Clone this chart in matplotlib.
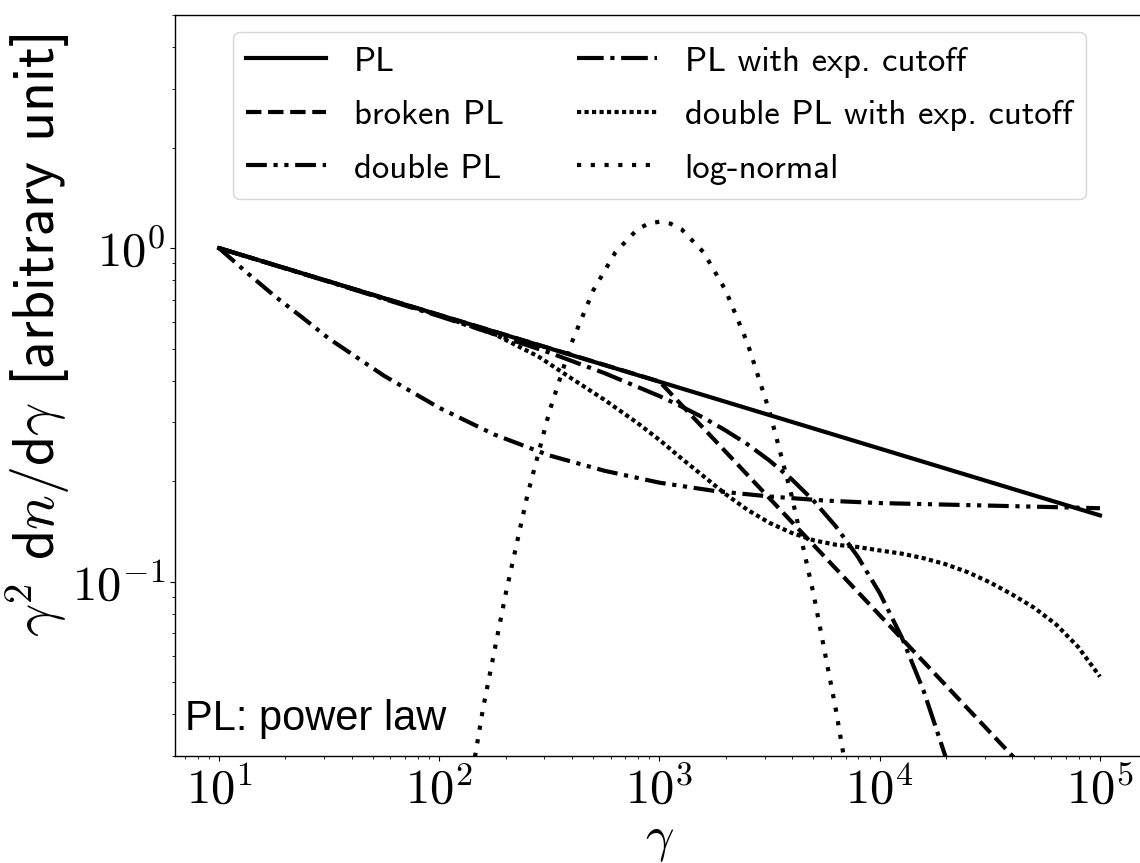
import numpy as np
import matplotlib
matplotlib.use("Agg")
import matplotlib.pyplot as plt
from matplotlib import ticker

# ============================================================
# DATA
# ============================================================

gamma_pl = [10, 1e5]
pl = [1.0, 0.158]

gamma_bpl = [10, 1000, 1e5]
bpl = [1.0, 0.398, 0.0158]

gamma_dpl = [10, 13.3, 17.8, 23.7, 31.6, 56.2, 100, 178, 316, 562, 1000,
             1778, 3162, 5623, 1e4, 31623, 1e5]
dpl = [1.0, 0.847, 0.72, 0.622, 0.535, 0.414, 0.332, 0.276, 0.239, 0.215,
       0.198, 0.187, 0.180, 0.175, 0.172, 0.169, 0.166]

gamma_plc = [10, 31.6, 100, 178, 316, 562, 1000, 1259, 1585, 1995, 2512,
             3162, 3981, 5012, 6310, 7943, 1e4, 12589, 15849, 19953, 25119]
plc = [1.0, 0.792, 0.625, 0.552, 0.486, 0.422, 0.360, 0.335, 0.310, 0.284,
       0.258, 0.2305, 0.2028, 0.1747, 0.1466, 0.1189, 0.0924, 0.0681,
       0.0469, 0.0297, 0.0169]

gamma_dplc = [10, 31.6, 100, 178, 282, 398, 562, 794, 1000, 1259, 1585,
              1995, 2512, 3162, 3981, 5012, 6310, 7943, 1e4, 12589, 15849,
              19953, 25119, 31623, 39811, 50119, 63096, 79433, 1e5]
dplc = [1.0, 0.794, 0.628, 0.552, 0.473, 0.407, 0.351, 0.299, 0.266, 0.234,
        0.207, 0.183, 0.164, 0.150, 0.140, 0.133, 0.129, 0.127, 0.124, 0.1213,
        0.1175, 0.1127, 0.1067, 0.0995, 0.0916, 0.0836, 0.0745, 0.0638,
        0.0519]

gamma_ln = [126, 158, 200, 251, 316, 398, 501, 631, 794, 891, 1000, 1122,
            1259, 1585, 1995, 2512, 3162, 3981, 5012, 6310, 7943]
lognorm = [0.0170, 0.0416, 0.0915, 0.181, 0.323, 0.518, 0.748, 0.972, 1.139,
           1.184, 1.2, 1.184, 1.139, 0.972, 0.748, 0.518, 0.323, 0.181,
           0.0915, 0.0416, 0.0170]

labels = ["PL", "broken PL", "double PL", "PL with exp. cutoff",
          "double PL with exp. cutoff", "log-normal"]

# ============================================================
# PLOT
# ============================================================

plt.rcParams["mathtext.fontset"] = "cm"
plt.rcParams["axes.linewidth"] = 1.0

fig = plt.figure(figsize=(11.4, 8.63), dpi=100)
ax = fig.add_axes([0.1535, 0.124, 0.85, 0.8586])

lw = 3
ax.plot(gamma_pl, pl, color="k", lw=lw, ls="-", label=labels[0])
ax.plot(gamma_bpl, bpl, color="k", lw=lw, ls="--", label=labels[1])
ax.plot(gamma_dpl, dpl, color="k", lw=lw,
        ls=(0, (5, 1.6, 1, 1.6, 1, 1.6)), label=labels[2])
ax.plot(gamma_plc, plc, color="k", lw=lw, ls="-.", label=labels[3])
ax.plot(gamma_dplc, dplc, color="k", lw=lw, ls=(0, (1, 0.8)), label=labels[4])
ax.plot(gamma_ln, lognorm, color="k", lw=lw, ls=(0, (1, 2.3)), label=labels[5])

ax.set_xscale("log")
ax.set_yscale("log")
ax.set_xlim(10 ** 0.8, 10 ** 5.2)
ax.set_ylim(0.03, 5)

fmt = ticker.FuncFormatter(lambda v, _: r"$10^{%d}$" % int(round(np.log10(v))))
ax.xaxis.set_major_formatter(fmt)
ax.yaxis.set_major_formatter(fmt)
ax.tick_params(axis="both", which="major", labelsize=35)

ax.set_xlabel(r"$\gamma$", fontsize=36, labelpad=2)
ax.set_ylabel(r"$\gamma^2$ d$n/$d$\gamma$ [arbitrary unit]",
              fontsize=42, family="cmss10")
ax.yaxis.set_label_coords(-0.106, 0.568)

ax.text(0.01, 0.035, "PL: power law", transform=ax.transAxes,
        fontsize=30, family="Liberation Sans", va="baseline")

ax.legend(loc="upper center", ncol=2, prop={"family": "cmss10", "size": 25},
          handlelength=2.3, handletextpad=0.8, columnspacing=2.1,
          labelspacing=0.64)

fig.savefig("out.png", dpi=100)
